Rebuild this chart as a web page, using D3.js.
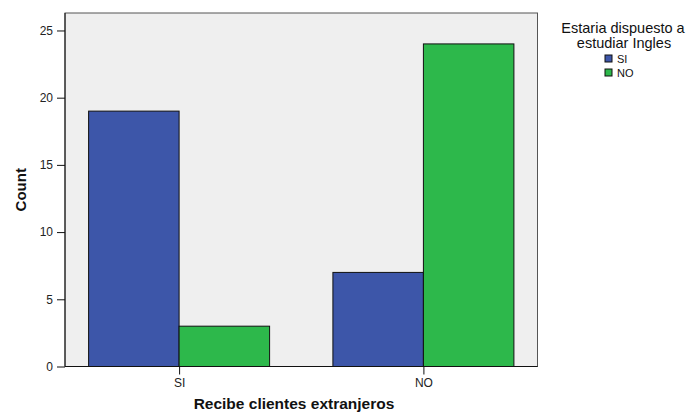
<!DOCTYPE html>
<html><head><meta charset="utf-8">
<script src="https://cdn.jsdelivr.net/npm/d3@7"></script>
<style>body{margin:0;background:#fff}svg{display:block;font-family:"Liberation Sans",Arial,sans-serif}</style>
</head><body><svg id="c" width="689" height="414"></svg>
<script>
const categories = ["SI", "NO"];
const seriesNames = ["SI", "NO"];
const valuesSI = [19, 7];
const valuesNO = [3, 24];
const yTicks = [0, 5, 10, 15, 20, 25];
const colors = ["#3d56a9", "#2db84b"];

const svg = d3.select("#c");
const L = 65, R = 537.5, T = 13, B = 366.5;
const x = d3.scalePoint().domain(categories).range([L, R]).padding(0.467);
const sub = d3.scaleBand().domain(seriesNames).range([-90.5, 90.5]);
const y = d3.scaleLinear().domain([0, 26.3]).range([B, T]);

svg.append("rect").attr("x", L).attr("y", T).attr("width", R - L).attr("height", B - T)
  .attr("fill", "#efefef").attr("stroke", "#555").attr("stroke-width", 1);

const series = [valuesSI, valuesNO];
series.forEach((vals, si) => {
  svg.append("g").selectAll("rect").data(vals).join("rect")
    .attr("x", (d, i) => x(categories[i]) + sub(seriesNames[si]))
    .attr("y", d => y(d))
    .attr("width", sub.bandwidth())
    .attr("height", d => y(0) - y(d))
    .attr("fill", colors[si]).attr("stroke", "#111").attr("stroke-width", 1);
});

const ya = svg.append("g").attr("transform", `translate(${L},0)`)
  .call(d3.axisLeft(y).tickValues(yTicks).tickSize(8).tickPadding(4).tickSizeOuter(0));
ya.select(".domain").attr("d", `M0,${B}V${T}`).attr("stroke", "#111");
ya.selectAll("text").attr("font-size", 12).attr("fill", "#222").attr("font-family", "Liberation Sans, Arial, sans-serif");
ya.selectAll("line").attr("stroke", "#111");

const xa = svg.append("g").attr("transform", `translate(0,${B})`)
  .call(d3.axisBottom(x).tickSize(8).tickPadding(4).tickSizeOuter(0));
xa.select(".domain").attr("d", `M${L},0H${R}`).attr("stroke", "#111");
xa.selectAll("text").attr("font-size", 12).attr("fill", "#222").attr("font-family", "Liberation Sans, Arial, sans-serif");
xa.selectAll("line").attr("stroke", "#111");

svg.append("text").attr("x", 294).attr("y", 409).attr("text-anchor", "middle")
  .attr("font-size", 15.5).attr("font-weight", "bold").attr("fill", "#111").text("Recibe clientes extranjeros");
svg.append("text").attr("transform", `translate(26,${(T + B) / 2}) rotate(-90)`).attr("text-anchor", "middle")
  .attr("font-size", 15).attr("font-weight", "bold").attr("fill", "#111").text("Count");

const lg = svg.append("g");
lg.append("text").attr("x", 623).attr("y", 33).attr("text-anchor", "middle").attr("font-size", 14.5).attr("fill", "#111").text("Estaria dispuesto a");
lg.append("text").attr("x", 624).attr("y", 48).attr("text-anchor", "middle").attr("font-size", 14.5).attr("fill", "#111").text("estudiar Ingles");
seriesNames.forEach((s, i) => {
  lg.append("rect").attr("x", 605).attr("y", 55 + i * 14).attr("width", 7).attr("height", 7)
    .attr("fill", colors[i]).attr("stroke", "#111").attr("stroke-width", 1);
  lg.append("text").attr("x", 617).attr("y", 62.5 + i * 14).attr("font-size", 11).attr("fill", "#111").text(s);
});
</script></body></html>
